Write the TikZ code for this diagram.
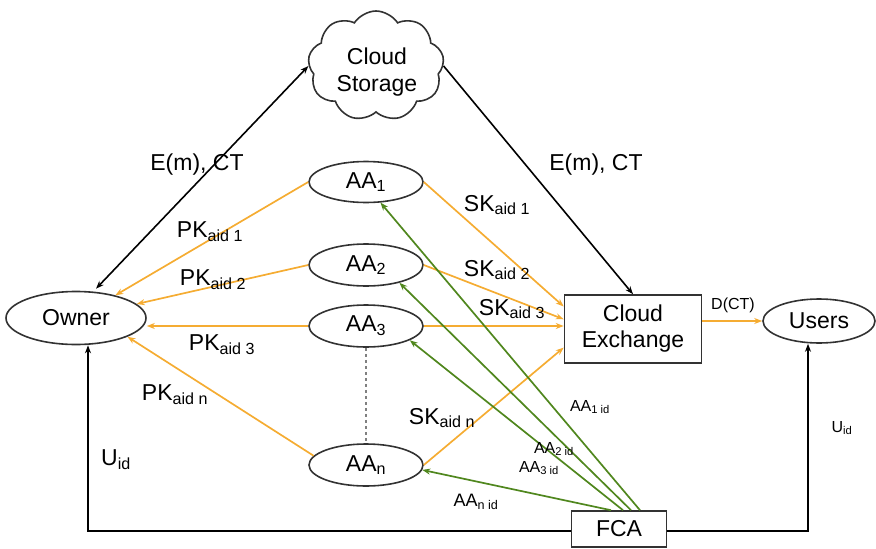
\documentclass[tikz,border=0pt]{standalone}
\usepackage{fontspec}
\setmainfont{Liberation Sans}
\usetikzlibrary{shapes.geometric,shapes.symbols,arrows.meta}
\definecolor{org}{RGB}{245,172,50}
\definecolor{grn}{RGB}{80,135,30}
\definecolor{edge}{RGB}{50,50,50}
\newcommand{\sbs}[1]{\textsubscript{#1}}
\begin{document}
\begin{tikzpicture}[x=1pt,y=-1pt,
  every node/.style={font=\fontsize{23}{26}\selectfont},
  ell/.style={ellipse,draw=edge,line width=1.6pt,inner sep=0pt},
  boxn/.style={rectangle,draw=edge,line width=1.6pt,inner sep=0pt,align=center},
  blk/.style={draw=black,line width=1.6pt,-{Stealth[length=8pt,width=6pt]}},
  oar/.style={draw=org,line width=1.7pt,-{Stealth[length=8pt,width=6pt]}},
  gar/.style={draw=grn,line width=1.7pt,-{Stealth[length=8pt,width=6pt]}},
  lbl/.style={inner sep=1pt},
  sml/.style={inner sep=1pt,font=\fontsize{16}{18}\selectfont},
]
\useasboundingbox (0,0) rectangle (876,549);
\node[cloud,draw=edge,line width=1.6pt,cloud puffs=9,cloud puff arc=115,aspect=1.3,minimum width=136pt,minimum height=110pt,inner sep=0pt,align=center] (cs) at (376,66) {};
\node[align=center,font=\fontsize{23}{27}\selectfont] (cst) at (377,72) {Cloud\\Storage};
\node[ell,minimum width=140pt,minimum height=53pt] (own) at (76,318) {Owner};
\node[ell,minimum width=114pt,minimum height=41pt] (aa1) at (366,182) {AA\sbs{1}};
\node[ell,minimum width=114pt,minimum height=42pt] (aa2) at (366,265) {AA\sbs{2}};
\node[ell,minimum width=114pt,minimum height=42pt] (aa3) at (366,326) {AA\sbs{3}};
\node[ell,minimum width=114pt,minimum height=42pt] (aan) at (366,465) {AA\sbs{n}};
\node[boxn,minimum width=137pt,minimum height=68pt] (ce) at (633,329) {Cloud\\Exchange};
\node[ell,minimum width=112pt,minimum height=44pt] (usr) at (819,321) {Users};
\node[boxn,minimum width=95pt,minimum height=36pt] (fca) at (619,529) {FCA};
% black
\draw[blk,{Stealth[length=8pt,width=6pt]}-{Stealth[length=8pt,width=6pt]}] (own.north) ++(20,-2) coordinate (o1) -- (cs.west);
\draw[blk] (cs.east) -- (ce.north);
\node[lbl] (l1) at (197,165) {E(m), CT};
\node[lbl] (l2) at (596,165) {E(m), CT};
% dashed
\draw[gray,dashed,line width=1.3pt] (aa3.south) -- (aan.north);
% orange to owner
\draw[oar] (aa1.west) -- (own.30);
\draw[oar] (aa2.west) -- (own.13);
\draw[oar] (aa3.west) -- (own.east |- aa3.west);
\draw[oar] (aan.170) -- (own.-20);
\node[lbl] (p1) at (210,232) {PK\sbs{aid 1}};
\node[lbl] (p2) at (213,280) {PK\sbs{aid 2}};
\node[lbl] (p3) at (222,345) {PK\sbs{aid 3}};
\node[lbl] (pn) at (175,395) {PK\sbs{aid n}};
% orange to exchange
\draw[oar] (aa1.east) -- (ce.162);
\draw[oar] (aa2.east) -- (ce.172);
\draw[oar] (aa3.east) -- (ce.west |- aa3.east);
\draw[oar] (aan.east) -- (ce.-165);
\node[lbl] (s1) at (497,205) {SK\sbs{aid 1}};
\node[lbl] (s2) at (497,270) {SK\sbs{aid 2}};
\node[lbl] (s3) at (512,309) {SK\sbs{aid 3}};
\node[lbl] (sn) at (442,418) {SK\sbs{aid n}};
\draw[oar] (ce.east |- usr.west) -- (usr.west);
\node[sml] (dct) at (733,305) {D(CT)};
% green
\draw[gar] (fca.north) ++(21,0) coordinate (f1) -- (aa1.-55);
\draw[gar] (fca.north) ++(12,0) coordinate (f2) -- (aa2.-28);
\draw[gar] (fca.north) ++(4,0) coordinate (f3) -- (aa3.-18);
\draw[gar] (fca.north) ++(-8,0) coordinate (f4) -- (aan.-5);
\node[sml] (g1) at (590,407) {AA\sbs{1 id}};
\node[sml] (g2) at (554,449) {AA\sbs{2 id}};
\node[sml] (g3) at (539,468) {AA\sbs{3 id}};
\node[lbl,font=\fontsize{18}{20}\selectfont] (gn) at (476,502) {AA\sbs{n id}};
% bottom lines
\coordinate (bl) at (88,531);
\coordinate (br) at (808,531);
\draw[blk] (fca.west |- bl) -- (bl) -- (bl |- own.south);
\draw[blk] (fca.east |- br) -- (br) -- (br |- usr.south);
\node[lbl] (u1) at (116,460) {U\sbs{id}};
\node[sml] (u2) at (842,428) {U\sbs{id}};
\end{tikzpicture}
\end{document}
